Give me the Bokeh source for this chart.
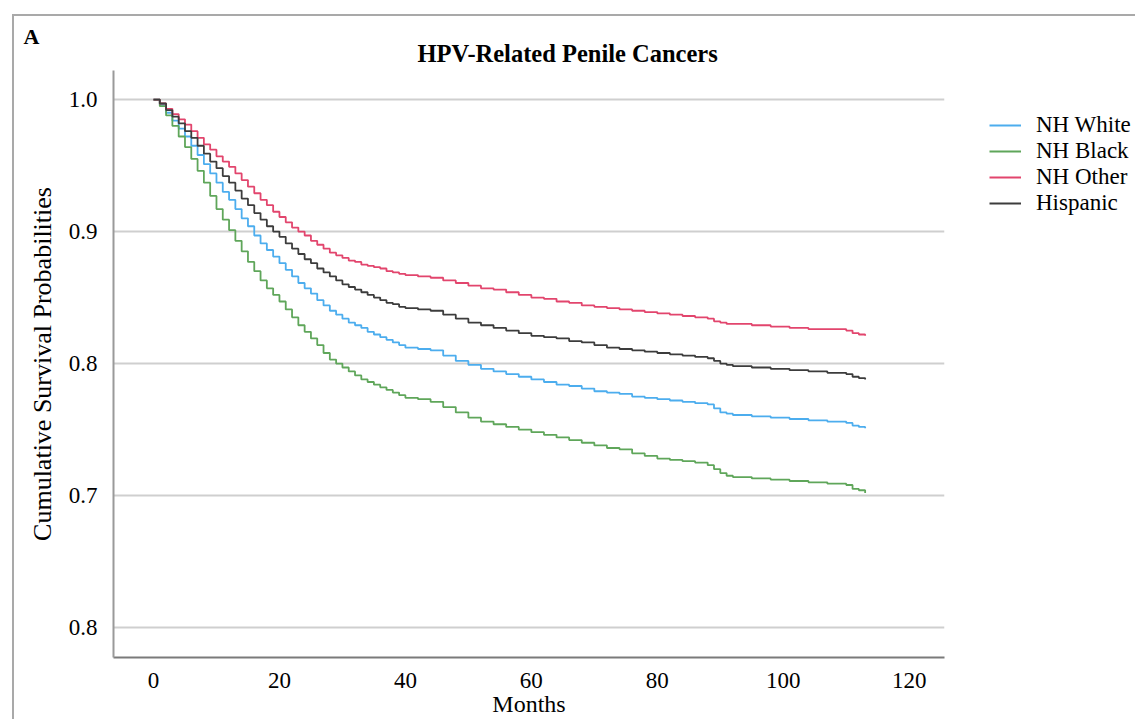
from bokeh.plotting import figure
from bokeh.models import Range1d, FixedTicker, Legend, LegendItem, Title
from bokeh.embed import file_html
from bokeh.resources import INLINE

# ---------------- data ----------------
months = [0, 1, 2, 3, 4, 5, 6, 7, 8, 9, 10, 11, 12, 13, 14, 15, 16, 17, 18, 19, 20,
          21, 22, 23, 24, 25, 26, 27, 28, 29, 30, 31, 32, 33, 34, 35, 36, 37, 38, 39, 40,
          42, 44, 46, 48, 50, 52, 54, 56, 58, 60, 62, 64, 66, 68, 70, 72, 74, 76, 78, 80,
          82, 84, 86, 88, 89, 90, 91, 92, 95, 98, 101, 104, 107, 110, 111, 112, 113]

nh_white = [1.000, 0.996, 0.990, 0.984, 0.978, 0.972, 0.965, 0.958, 0.951, 0.944, 0.937,
            0.930, 0.924, 0.917, 0.910, 0.904, 0.897, 0.891, 0.886, 0.881, 0.876,
            0.871, 0.866, 0.861, 0.857, 0.853, 0.848, 0.844, 0.840, 0.837, 0.834,
            0.831, 0.829, 0.827, 0.824, 0.822, 0.820, 0.818, 0.816, 0.814, 0.812,
            0.811, 0.810, 0.806, 0.802, 0.799, 0.796, 0.794, 0.792, 0.790, 0.788,
            0.786, 0.784, 0.783, 0.781, 0.779, 0.778, 0.777, 0.775, 0.774, 0.773,
            0.772, 0.771, 0.770, 0.769, 0.766, 0.763, 0.762, 0.761, 0.760, 0.759,
            0.758, 0.757, 0.756, 0.755, 0.753, 0.752, 0.751]

nh_black = [1.000, 0.995, 0.988, 0.980, 0.972, 0.964, 0.955, 0.946, 0.937, 0.927, 0.917,
            0.909, 0.901, 0.893, 0.885, 0.877, 0.870, 0.863, 0.857, 0.852, 0.847,
            0.841, 0.835, 0.829, 0.824, 0.819, 0.814, 0.808, 0.803, 0.800, 0.797,
            0.794, 0.791, 0.788, 0.786, 0.784, 0.782, 0.780, 0.778, 0.776, 0.774,
            0.773, 0.771, 0.767, 0.763, 0.759, 0.756, 0.754, 0.752, 0.750, 0.748,
            0.746, 0.744, 0.742, 0.740, 0.738, 0.736, 0.735, 0.732, 0.730, 0.728,
            0.727, 0.726, 0.725, 0.723, 0.720, 0.717, 0.715, 0.714, 0.713, 0.712,
            0.711, 0.710, 0.709, 0.708, 0.705, 0.704, 0.702]

nh_other = [1.000, 0.997, 0.993, 0.989, 0.985, 0.981, 0.976, 0.971, 0.966, 0.962, 0.957,
            0.953, 0.949, 0.944, 0.939, 0.934, 0.929, 0.924, 0.920, 0.915, 0.911,
            0.907, 0.903, 0.900, 0.897, 0.893, 0.890, 0.887, 0.884, 0.882, 0.880,
            0.878, 0.877, 0.875, 0.874, 0.873, 0.872, 0.870, 0.869, 0.868, 0.867,
            0.866, 0.865, 0.863, 0.861, 0.859, 0.857, 0.856, 0.854, 0.852, 0.850,
            0.849, 0.847, 0.846, 0.844, 0.843, 0.842, 0.841, 0.840, 0.839, 0.838,
            0.837, 0.836, 0.835, 0.834, 0.832, 0.831, 0.830, 0.830, 0.829, 0.828,
            0.827, 0.826, 0.826, 0.825, 0.823, 0.822, 0.821]

hispanic = [1.000, 0.997, 0.992, 0.987, 0.982, 0.976, 0.971, 0.965, 0.959, 0.953, 0.948,
            0.942, 0.937, 0.931, 0.925, 0.920, 0.914, 0.909, 0.904, 0.900, 0.896,
            0.891, 0.887, 0.883, 0.879, 0.876, 0.872, 0.869, 0.866, 0.863, 0.860,
            0.858, 0.856, 0.854, 0.852, 0.850, 0.848, 0.846, 0.845, 0.843, 0.842,
            0.841, 0.840, 0.837, 0.834, 0.831, 0.829, 0.827, 0.825, 0.823, 0.821,
            0.820, 0.819, 0.817, 0.816, 0.814, 0.812, 0.811, 0.810, 0.809, 0.808,
            0.807, 0.806, 0.805, 0.804, 0.802, 0.800, 0.799, 0.798, 0.797, 0.796,
            0.795, 0.794, 0.793, 0.792, 0.790, 0.789, 0.788]

group_names = ["NH White", "NH Black", "NH Other", "Hispanic"]
x_ticks = [0, 20, 40, 60, 80, 100, 120]
y_ticks = [0.6, 0.7, 0.8, 0.9, 1.0]
y_tick_labels = ["0.8", "0.7", "0.8", "0.9", "1.0"]

# ---------------- figure ----------------
FONT = "Liberation Serif"
p = figure(frame_width=831, frame_height=587,
           min_border_left=99, min_border_top=54, min_border_right=188, min_border_bottom=61,
           x_range=Range1d(-6.35, 125.6), y_range=Range1d(0.5773, 1.022),
           output_backend="svg", toolbar_location=None,
           styles={"border-left": "2px solid #a9a9a9", "border-top": "2px solid #a9a9a9"})
p.margin = (14, 0, 0, 12)
p.background_fill_color = "white"
p.border_fill_color = "white"
p.outline_line_color = None

# grid
p.xgrid.grid_line_color = None
p.ygrid.grid_line_color = "#cfcfcf"
p.ygrid.grid_line_width = 2

# axes
p.xaxis.ticker = FixedTicker(ticks=x_ticks)
p.yaxis.ticker = FixedTicker(ticks=y_ticks)
p.yaxis.major_label_overrides = {t: s for t, s in zip(y_ticks, y_tick_labels)}
for ax in (p.xaxis, p.yaxis):
    ax.major_tick_line_color = None
    ax.minor_tick_line_color = None
    ax.major_label_text_font = FONT
    ax.major_label_text_font_size = "23px"
    ax.major_label_text_color = "black"
    ax.axis_label_text_font = FONT
    ax.axis_label_text_font_style = "normal"
    ax.axis_label_text_color = "black"
p.xaxis.axis_label_text_font_size = "24px"
p.yaxis.axis_label_text_font_size = "26px"
p.xaxis.axis_line_color = "#7a7a7a"
p.xaxis.axis_line_width = 2
p.yaxis.axis_line_color = "#9a9a9a"
p.yaxis.axis_line_width = 2
p.xaxis.major_label_standoff = 9
p.yaxis.major_label_standoff = 10
p.xaxis.axis_label = "Months"
p.xaxis.axis_label_standoff = 0
p.yaxis.axis_label = "Cumulative Survival Probabilities"
p.yaxis.axis_label_standoff = 9

colors = ["#4cadee", "#5fa65a", "#e2456d", "#3c3c3c"]
series = [nh_white, nh_black, nh_other, hispanic]
renderers = []
for vals, c in zip(series, colors):
    r = p.step(months, vals, mode="after", line_color=c, line_width=1.8)
    renderers.append(r)

legend = Legend(items=[LegendItem(label=n, renderers=[r]) for n, r in zip(group_names, renderers)],
                location=(45, 441), orientation="vertical")
legend.label_text_font = FONT
legend.label_text_font_size = "23px"
legend.label_text_color = "black"
legend.glyph_width = 32
legend.glyph_height = 20
legend.label_height = 20
legend.spacing = -4
legend.label_standoff = 15
legend.padding = 0
legend.margin = 0
legend.border_line_color = None
legend.background_fill_alpha = 0
p.add_layout(legend, "right")

# titles (first added sits closest to the frame)
p.add_layout(Title(text="HPV-Related Penile Cancers", align="left", offset=304,
                   text_font=FONT, text_font_size="24.5px", text_font_style="bold",
                   text_color="black", standoff=8), "above")
p.add_layout(Title(text="A", align="left", offset=-90,
                   text_font=FONT, text_font_size="22px", text_font_style="bold",
                   text_color="black", standoff=-31), "above")

open("out.html", "w").write(file_html(p, INLINE))
